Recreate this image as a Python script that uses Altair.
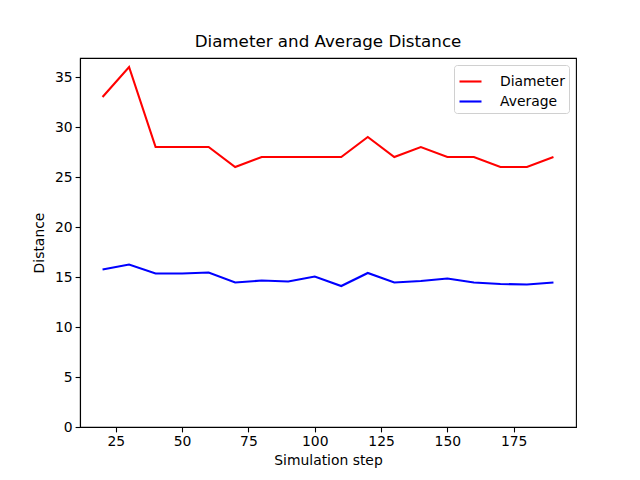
import altair as alt
import pandas as pd

steps = [20, 30, 40, 50, 60, 70, 80, 90, 100, 110, 120, 130, 140, 150, 160, 170, 180, 190]
diameter = [33, 36, 28, 28, 28, 26, 27, 27, 27, 27, 29, 27, 28, 27, 27, 26, 26, 27]
average = [15.75, 16.25, 15.35, 15.35, 15.45, 14.45, 14.65, 14.55, 15.05, 14.1,
           15.4, 14.45, 14.6, 14.85, 14.45, 14.3, 14.25, 14.45]
series_names = ["Diameter", "Average"]
series_colors = ["#ff0000", "#0000ff"]
x_ticks = [25, 50, 75, 100, 125, 150, 175]
y_ticks = [0, 5, 10, 15, 20, 25, 30, 35]

rows = []
for s, d, a in zip(steps, diameter, average):
    rows.append({"step": s, "value": d, "series": "Diameter"})
    rows.append({"step": s, "value": a, "series": "Average"})
df = pd.DataFrame(rows)

FONT = "DejaVu Sans"

chart = alt.Chart(df).mark_line(strokeWidth=2.1).encode(
    x=alt.X("step:Q", scale=alt.Scale(domain=[11.5, 198.5], nice=False, zero=False),
            axis=alt.Axis(values=x_ticks, title="Simulation step", grid=False)),
    y=alt.Y("value:Q", scale=alt.Scale(domain=[0, 36.9], nice=False),
            axis=alt.Axis(values=y_ticks, title="Distance", grid=False)),
    color=alt.Color("series:N", sort=series_names,
                    scale=alt.Scale(domain=series_names, range=series_colors),
                    legend=alt.Legend(title=None, orient="top-right", symbolType="stroke",
                                      symbolStrokeWidth=2.1, symbolSize=484,
                                      labelFont=FONT, labelFontSize=13.9, labelColor="black",
                                      labelOffset=17,
                                      strokeColor="#d0d0d0", padding=4, cornerRadius=3,
                                      fillColor="white", offset=7, rowPadding=0)),
).properties(
    width=496, height=369,
    title=alt.Title("Diameter and Average Distance", font=FONT, fontSize=16.7,
                    fontWeight="normal", color="black", offset=7),
    autosize=alt.AutoSizeParams(type="none"),
    padding={"left": 80, "top": 58, "right": 64, "bottom": 53},
).configure_view(
    stroke="black", strokeWidth=1.1
).configure_axis(
    labelFont=FONT, labelFontSize=13.9, labelColor="black",
    titleFont=FONT, titleFontSize=13.9, titleColor="black", titleFontWeight="normal",
    domainColor="black", tickColor="black", tickSize=4.9, tickWidth=1.1, domainWidth=1.1,
    labelPadding=3,
).configure_axisX(titlePadding=5).configure_axisY(titlePadding=8)

chart.save("out.html", embed_options={"renderer": "svg", "actions": False})
